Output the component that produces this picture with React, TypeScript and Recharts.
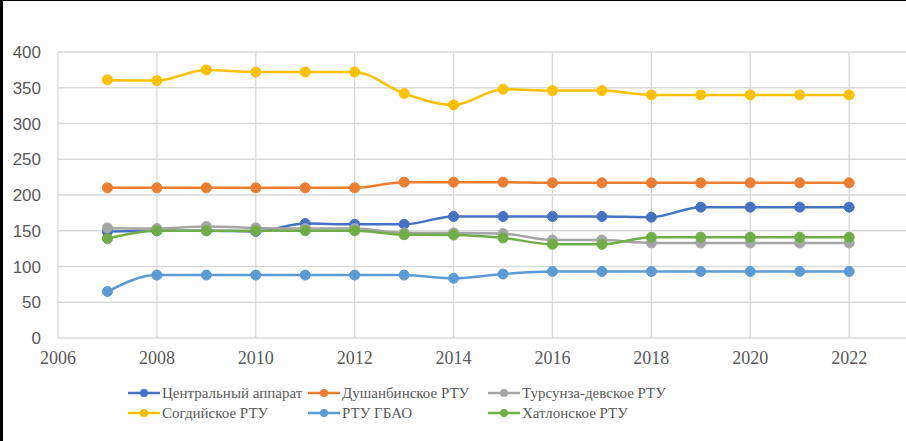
import React from 'react';
import { LineChart, Line, XAxis, YAxis, CartesianGrid, Legend } from 'recharts';

const years = [2007, 2008, 2009, 2010, 2011, 2012, 2013, 2014, 2015, 2016, 2017, 2018, 2019, 2020, 2021, 2022];
const central = [149, 150, 150, 149, 160, 159, 159, 170, 170, 170, 170, 169, 183, 183, 183, 183];
const dushanbe = [210, 210, 210, 210, 210, 210, 218, 218, 218, 217, 217, 217, 217, 217, 217, 217];
const tursunzade = [154, 153, 156, 154, 153, 153, 147, 147, 146, 137, 137, 133, 133, 133, 133, 133];
const sogd = [361, 360, 375, 372, 372, 372, 342, 326, 348, 346, 346, 340, 340, 340, 340, 340];
const gbao = [65, 88, 88, 88, 88, 88, 88, 83.5, 89.5, 93, 93, 93, 93, 93, 93, 93];
const khatlon = [139, 150, 150, 150, 150, 150, 144.5, 144, 140, 131, 131, 141, 141, 141, 141, 141];

const xTicks = [2006, 2008, 2010, 2012, 2014, 2016, 2018, 2020, 2022];
const yTicks = [0, 50, 100, 150, 200, 250, 300, 350, 400];

const SERIF = "'Liberation Serif', 'Times New Roman', Times, serif";

const series = [
  { key: 'central', name: 'Центральный аппарат', color: '#4472C4', values: central },
  { key: 'dushanbe', name: 'Душанбинское РТУ', color: '#ED7D31', values: dushanbe },
  { key: 'tursunzade', name: 'Турсунза-девское РТУ', color: '#A5A5A5', values: tursunzade },
  { key: 'sogd', name: 'Согдийское РТУ', color: '#FFC000', values: sogd },
  { key: 'gbao', name: 'РТУ ГБАО', color: '#5B9BD5', values: gbao },
  { key: 'khatlon', name: 'Хатлонское РТУ', color: '#70AD47', values: khatlon },
];

const data = years.map((y, i) => {
  const row: Record<string, number> = { year: y };
  series.forEach((s) => {
    row[s.key] = s.values[i];
  });
  return row;
});

const LegendContent = () => (
  <div style={{ height: 50, paddingTop: 15, boxSizing: 'border-box', fontFamily: SERIF }}>
    <div style={{ display: 'flex', flexWrap: 'wrap', width: 540, marginLeft: 128 }}>
      {series.map((s) => (
        <div key={s.key} style={{ width: 180, height: 20, display: 'flex', alignItems: 'center' }}>
          <svg width={32} height={12} style={{ flex: 'none' }}>
            <line x1={0} y1={6} x2={32} y2={6} stroke={s.color} strokeWidth={2.5} />
            <circle cx={16} cy={6} r={4} fill={s.color} />
          </svg>
          <span
            style={{
              fontFamily: SERIF,
              fontSize: 15,
              color: '#595959',
              marginLeft: 2,
              whiteSpace: 'nowrap',
            }}
          >
            {s.name}
          </span>
        </div>
      ))}
    </div>
  </div>
);

export default function App() {
  return (
    <div
      style={{
        position: 'absolute',
        left: 0,
        top: 0,
        width: 906,
        height: 441,
        background: '#fff',
        boxSizing: 'border-box',
        borderTop: '1px solid #000',
        borderLeft: '3px solid #000',
      }}
    >
      <div style={{ position: 'absolute', left: -3, top: -1 }}>
        <LineChart width={906} height={441} data={data} margin={{ top: 52, right: 0, left: 8, bottom: 23 }}>
          <CartesianGrid stroke="#D9D9D9" strokeWidth={1.3} verticalValues={xTicks} />
          <XAxis
            dataKey="year"
            type="number"
            domain={[2006, 2023.15]}
            ticks={xTicks}
            allowDataOverflow
            axisLine={false}
            tickLine={false}
            tickMargin={7}
            height={30}
            tick={{ fill: '#595959', fontSize: 18, fontFamily: SERIF }}
          />
          <YAxis
            domain={[0, 400]}
            ticks={yTicks}
            axisLine={false}
            tickLine={false}
            width={50}
            tickMargin={11}
            tick={{ fill: '#595959', fontSize: 17, fontFamily: "'Liberation Sans', Arial, sans-serif" }}
          />
          <Legend verticalAlign="bottom" content={<LegendContent />} wrapperStyle={{ left: 0, width: 906 }} />
          {series.map((s) => (
            <Line
              key={s.key}
              type="monotone"
              dataKey={s.key}
              name={s.name}
              stroke={s.color}
              strokeWidth={2.5}
              dot={{ r: 5, fill: s.color, stroke: s.color, strokeWidth: 1 }}
              activeDot={false}
              isAnimationActive={false}
            />
          ))}
        </LineChart>
      </div>
    </div>
  );
}
